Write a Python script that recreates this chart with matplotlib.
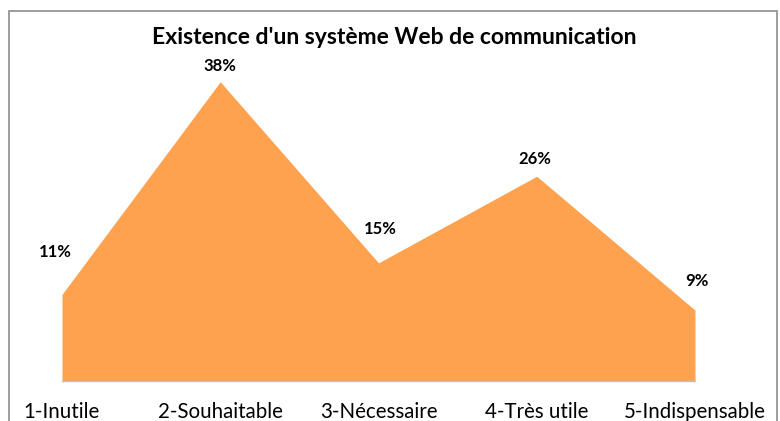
import matplotlib
matplotlib.use("Agg")
import matplotlib.pyplot as plt
from matplotlib.patches import Rectangle

categories = ["1-Inutile", "2-Souhaitable", "3-Nécessaire", "4-Très utile", "5-Indispensable"]
values = [11, 38, 15, 26, 9]
value_labels = ["11%", "38%", "15%", "26%", "9%"]
title = "Existence d'un système Web de communication"

# label offsets (pixels) relative to each point
label_dx = [-7, 0, 2, -2, 2]
label_dy = [42, 16, 34, 17, 29]

plt.rcParams['font.family'] = ['Lato', 'DejaVu Sans']

fig = plt.figure(figsize=(7.8, 4.21), dpi=100)
fig.patch.set_facecolor("white")
ax = fig.add_axes([62/780, (421-381)/421, (695-62)/780, (381-66)/421])

x = list(range(len(categories)))
ax.fill_between(x, values, 0, color="#FFA24F", linewidth=0)
ax.set_xlim(0, len(categories) - 1)
ax.set_ylim(0, 40)

for s in ["top", "right", "left"]:
    ax.spines[s].set_visible(False)
ax.spines["bottom"].set_color("#BFBFBF")
ax.spines["bottom"].set_linewidth(1)
ax.set_yticks([])
ax.set_xticks(x)
ax.set_xticklabels(categories, fontsize=14.8, color="black")
ax.tick_params(axis="x", length=0, pad=15)

for xi, v, lab, dx, dy in zip(x, values, value_labels, label_dx, label_dy):
    ax.annotate(lab, (xi, v), xytext=(dx * 0.72, dy * 0.72), textcoords="offset points",
                ha="center", va="center", fontsize=12, fontweight="bold", color="black",
                annotation_clip=False)

fig.text(394/780, 1 - 37/421, title, ha="center", va="center", fontsize=16.5,
         fontweight="bold", color="black")

rect = Rectangle((9/780, -0.1), (777-9)/780, (421-11)/421 + 0.1, transform=fig.transFigure,
                 fill=False, edgecolor="#8C8C8C", linewidth=1.2)
fig.patches.append(rect)

fig.savefig("out.png", dpi=100, facecolor="white")
